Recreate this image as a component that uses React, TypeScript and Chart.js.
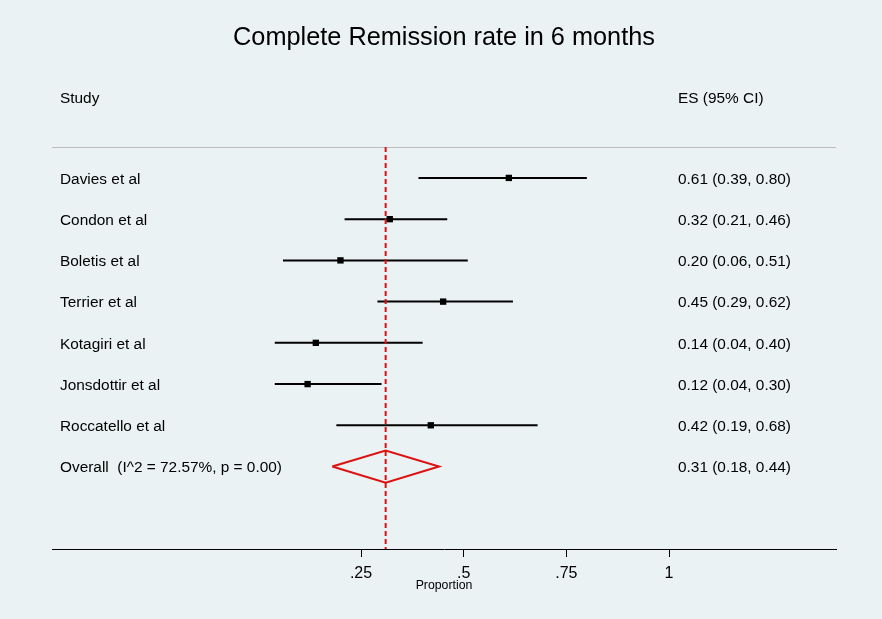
import { useEffect, useRef } from 'react';
import { Chart, registerables } from 'chart.js';

Chart.register(...registerables);

const title = 'Complete Remission rate in 6 months';
const studies = [
  'Davies et al',
  'Condon et al',
  'Boletis et al',
  'Terrier et al',
  'Kotagiri et al',
  'Jonsdottir et al',
  'Roccatello et al',
];
const es = [0.61, 0.32, 0.2, 0.45, 0.14, 0.12, 0.42];
const lo = [0.39, 0.21, 0.06, 0.29, 0.04, 0.04, 0.19];
const hi = [0.8, 0.46, 0.51, 0.62, 0.4, 0.3, 0.68];
const overallLabel = 'Overall  (I^2 = 72.57%, p = 0.00)';
const overallEs = 0.31;
const overallLo = 0.18;
const overallHi = 0.44;
const tickValues = [0.25, 0.5, 0.75, 1];
const xTitle = 'Proportion';
const headerLeft = 'Study';
const headerRight = 'ES (95% CI)';

const X_MIN = -0.5024;
const X_MAX = 1.4066;
const Y_MIN = -0.75;
const Y_MAX = 9;
const FONT = '"Liberation Sans", Arial, Helvetica, sans-serif';
const BG = '#EAF2F3';
const RED = '#DD1111';

const fmt = (v: number) => v.toFixed(2);

export default function App() {
  const ref = useRef<HTMLCanvasElement>(null);

  useEffect(() => {
    const canvas = ref.current;
    if (!canvas) return;

    const ciSets = studies.map((s, i) => ({
      label: s,
      data: [
        { x: lo[i], y: i },
        { x: hi[i], y: i },
      ],
      showLine: true,
      borderColor: '#000',
      borderWidth: 2,
      pointRadius: 0,
      order: 3,
    }));

    const ovRow = studies.length;
    const diamondHalf = 0.39;

    const datasets: any[] = [
      ...ciSets,
      {
        label: 'overall line',
        data: [
          { x: overallEs, y: Y_MIN },
          { x: overallEs, y: Y_MAX },
        ],
        showLine: true,
        borderColor: RED,
        borderWidth: 2,
        borderDash: [5, 3],
        pointRadius: 0,
        order: 2,
      },
      {
        label: 'diamond',
        data: [
          { x: overallLo, y: ovRow },
          { x: overallEs, y: ovRow - diamondHalf },
          { x: overallHi, y: ovRow },
          { x: overallEs, y: ovRow + diamondHalf },
          { x: overallLo, y: ovRow },
        ],
        showLine: true,
        borderColor: RED,
        borderWidth: 2,
        fill: false,
        pointRadius: 0,
        order: 1,
      },
      {
        label: 'ES',
        data: es.map((v, i) => ({ x: v, y: i })),
        pointStyle: 'rect',
        pointRadius: 4.5,
        backgroundColor: '#000',
        borderColor: '#000',
        borderWidth: 0,
        showLine: false,
        order: 0,
      },
    ];

    const textPlugin = {
      id: 'forestText',
      beforeDraw(chart: any) {
        const { ctx, width, height } = chart;
        ctx.save();
        ctx.fillStyle = BG;
        ctx.fillRect(0, 0, width, height);
        ctx.restore();
      },
      beforeDatasetsDraw(chart: any) {
        const { ctx, chartArea } = chart;
        ctx.save();
        ctx.strokeStyle = '#BDBDBD';
        ctx.lineWidth = 1;
        ctx.beginPath();
        ctx.moveTo(chartArea.left, Math.round(chartArea.top) + 0.5);
        ctx.lineTo(chartArea.right, Math.round(chartArea.top) + 0.5);
        ctx.stroke();
        ctx.restore();
      },
      afterDraw(chart: any) {
        const { ctx, chartArea } = chart;
        const yScale = chart.scales.y;
        const cx = (chartArea.left + chartArea.right) / 2;
        const dy = 1.5;
        ctx.save();
        ctx.fillStyle = '#000';
        ctx.textBaseline = 'middle';

        ctx.font = `25.3px ${FONT}`;
        ctx.textAlign = 'center';
        ctx.fillText(title, cx, 38.5);

        ctx.font = `15.4px ${FONT}`;
        ctx.textAlign = 'left';
        ctx.fillText(headerLeft, 60, 97 + dy);
        ctx.fillText(headerRight, 678, 97 + dy);

        studies.forEach((s, i) => {
          const y = yScale.getPixelForValue(i) + dy;
          ctx.fillText(s, 60, y);
          ctx.fillText(`${fmt(es[i])} (${fmt(lo[i])}, ${fmt(hi[i])})`, 678, y);
        });
        const yo = yScale.getPixelForValue(ovRow) + dy;
        ctx.fillText(overallLabel, 60, yo);
        ctx.fillText(`${fmt(overallEs)} (${fmt(overallLo)}, ${fmt(overallHi)})`, 678, yo);

        ctx.font = `12.3px ${FONT}`;
        ctx.textAlign = 'center';
        ctx.fillText(xTitle, cx, 586);
        ctx.restore();
      },
    };

    const chart = new Chart(canvas, {
      type: 'scatter',
      data: { datasets },
      options: {
        animation: false,
        responsive: false,
        events: [],
        layout: { padding: { left: 52, right: 46, top: 147, bottom: 0 } },
        plugins: {
          legend: { display: false },
          tooltip: { enabled: false },
          title: { display: false },
        },
        scales: {
          x: {
            type: 'linear',
            min: X_MIN,
            max: X_MAX,
            afterBuildTicks: (s: any) => {
              s.ticks = tickValues.map((v) => ({ value: v }));
            },
            afterFit: (s: any) => {
              s.height = 70;
            },
            ticks: {
              autoSkip: false,
              maxRotation: 0,
              padding: 7,
              color: '#000',
              font: { family: FONT, size: 16 },
              callback: (v: any) => {
                const n = Number(v);
                return n === 1 ? '1' : String(n).replace(/^0/, '');
              },
            },
            grid: {
              display: true,
              drawOnChartArea: false,
              drawTicks: true,
              tickLength: 8,
              color: '#000',
              lineWidth: 1,
            },
            border: { display: true, color: '#000', width: 1 },
          },
          y: {
            type: 'linear',
            min: Y_MIN,
            max: Y_MAX,
            reverse: true,
            display: false,
          },
        },
      },
      plugins: [textPlugin],
    } as any);

    return () => chart.destroy();
  }, []);

  return (
    <div style={{ position: 'absolute', left: 0, top: 0, width: 882, height: 619, background: BG }}>
      <canvas ref={ref} width={882} height={619} style={{ display: 'block', width: 882, height: 619 }} />
    </div>
  );
}
